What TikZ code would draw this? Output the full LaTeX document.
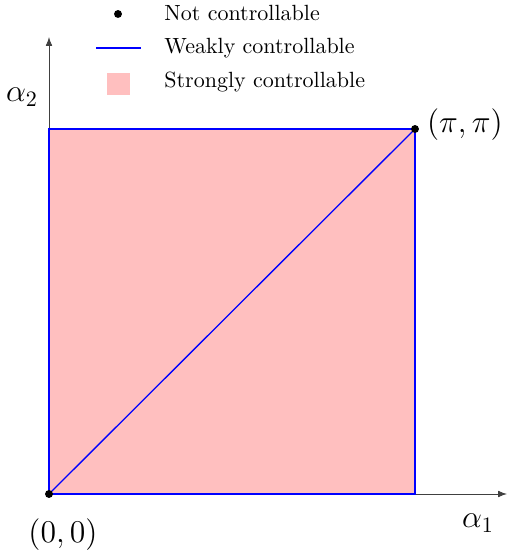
\documentclass[tikz,border=0pt]{standalone}
\usepackage{amsmath,amssymb}
\usetikzlibrary{arrows.meta,positioning}

\begin{document}
\begin{tikzpicture}[
  x=0.4545pt, y=0.4545pt,
  axis/.style={-{Latex[length=4pt,width=3pt]},draw=black!75,line width=0.4pt},
  weak/.style={draw=blue,line width=0.6pt},
  strong/.style={fill=pink},
  dotnode/.style={circle,fill=black,inner sep=0pt,minimum size=3.6pt},
  lgtext/.style={anchor=base west,inner sep=0pt},
  lbl/.style={font=\Large}]
\useasboundingbox (-49,-60) rectangle (469,494);
% region and axes
\coordinate (o) at (0,0);
\coordinate (pp) at (366,365);
\fill[strong] (o) rectangle (pp);
\draw[axis] (o) -- (458,0) coordinate (xend);
\draw[axis] (o) -- (0,457) coordinate (yend);
\draw[weak] (o) rectangle (pp);
\draw[weak] (o) -- (pp);
\node[dotnode] (o0) at (o) {};
\node[dotnode] (p0) at (pp) {};
\node[lbl,right=0pt of p0,yshift=2pt] (plbl) {$(\pi,\pi)$};
\node[lbl] (olbl) at (14,-41) {$(0,0)$};
\node[lbl] (a1) at (429,-29) {$\alpha_1$};
\node[lbl] (a2) at (-27,397) {$\alpha_2$};
% legend
\node[dotnode] (l1) at (69,480) {};
\coordinate (l2a) at (47,446); \coordinate (l2b) at (92,446);
\draw[weak] (l2a) -- (l2b);
\fill[strong] (58,399) rectangle (81,421);
\node[lgtext] (t1) at (115,473) {Not controllable};
\node[lgtext] (t2) at (115,440) {Weakly controllable};
\node[lgtext] (t3) at (115,406) {Strongly controllable};
\end{tikzpicture}
\end{document}
